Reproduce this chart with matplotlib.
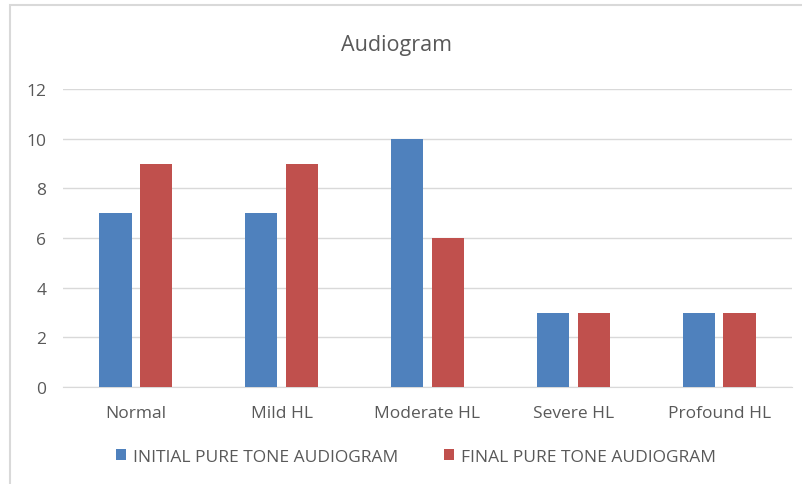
import numpy as np
import matplotlib.pyplot as plt
from matplotlib.patches import Rectangle

categories = ['Normal', 'Mild HL', 'Moderate HL', 'Severe HL', 'Profound HL']
initial = [7, 7, 10, 3, 3]
final = [9, 9, 6, 3, 3]
series_names = ['INITIAL PURE TONE AUDIOGRAM', 'FINAL PURE TONE AUDIOGRAM']

blue = '#4F81BD'
red = '#C0504D'
text_col = '#595959'

plt.rcParams['font.family'] = ['Open Sans', 'DejaVu Sans']

fig = plt.figure(figsize=(8.03, 4.85), dpi=100)
# chart border (right and bottom edges fall outside the image)
fig.patches.append(Rectangle((10 / 803, -0.05), 1.0, 1 - 6 / 485 + 0.05,
                             transform=fig.transFigure, fill=False,
                             edgecolor='#D9D9D9', linewidth=1.5))

ax = fig.add_axes([63 / 803, 1 - 388 / 485, (792 - 63) / 803, (388 - 90) / 485])
x = np.arange(len(categories))
w = 0.22
off = 0.14
ax.bar(x - off, initial, w, color=blue, label=series_names[0], zorder=3)
ax.bar(x + off, final, w, color=red, label=series_names[1], zorder=3)

ax.set_xlim(-0.5, len(categories) - 0.5)
ax.set_ylim(0, 12)
ax.set_yticks(range(0, 13, 2))
ax.set_xticks(x)
ax.set_xticklabels(categories)
ax.yaxis.grid(True, color='#D9D9D9', linewidth=1, zorder=0)
for s in ['top', 'right', 'left']:
    ax.spines[s].set_visible(False)
ax.spines['bottom'].set_color('#D9D9D9')
ax.tick_params(axis='both', length=0, colors=text_col, labelsize=12.5)
ax.tick_params(axis='y', pad=12)
ax.tick_params(axis='x', pad=13)

fig.text(397 / 803, 1 - 46 / 485, 'Audiogram', ha='center', va='center',
         fontsize=15.5, color=text_col)

fig.legend(loc='center', bbox_to_anchor=(416 / 803, 1 - 458 / 485), ncol=2,
           frameon=False, fontsize=12.5, labelcolor=text_col,
           handlelength=0.6, handleheight=0.6, handletextpad=0.4,
           columnspacing=2.6)

fig.savefig('out.png', dpi=100)
